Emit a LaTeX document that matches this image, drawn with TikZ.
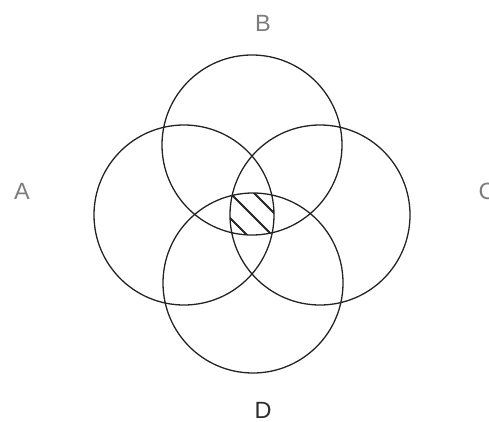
\documentclass[tikz,border=0pt]{standalone}
\usepackage{fontspec}
\setmainfont{Liberation Sans}
\usetikzlibrary{positioning}
\definecolor{SetLine}{RGB}{35, 35, 35}
\definecolor{LabelGray}{RGB}{125, 125, 125}
\definecolor{LabelDark}{RGB}{45, 45, 45}

\begin{document}
\begin{tikzpicture}[x=1pt, y=-1pt,
    setcircle/.style={SetLine, line width=1.3pt},
    setlabel/.style={LabelGray, font=\fontsize{23.5}{24}\selectfont, inner sep=0pt},
    hatchline/.style={SetLine, line width=1.8pt}]
    \useasboundingbox (0,0) rectangle (489,422);
    % Centres of the four sets
    \coordinate (cA) at (184,215);
    \coordinate (cB) at (252,145);
    \coordinate (cC) at (320,215);
    \coordinate (cD) at (253,283);

    % Hatched region: A and B and C and D
    \begin{scope}
      \clip (cA) circle (90);
      \clip (cB) circle (90);
      \clip (cC) circle (90);
      \clip (cD) circle (90);
      \foreach \c in {12, 37, 61} {
        \draw[hatchline] (180+\c,180) -- (300+\c,300);
      }
    \end{scope}

    % Circles
    \foreach \s in {A, B, C, D} {
      \draw[setcircle] (c\s) circle (90);
    }

    % Labels
    \node[setlabel] (labA) at (22,191) {A};
    \node[setlabel] (labB) at (263,23) {B};
    \node[setlabel] (labC) at (487,191) {C};
    \node[setlabel, LabelDark] (labD) at (263,410) {D};
\end{tikzpicture}
\end{document}
